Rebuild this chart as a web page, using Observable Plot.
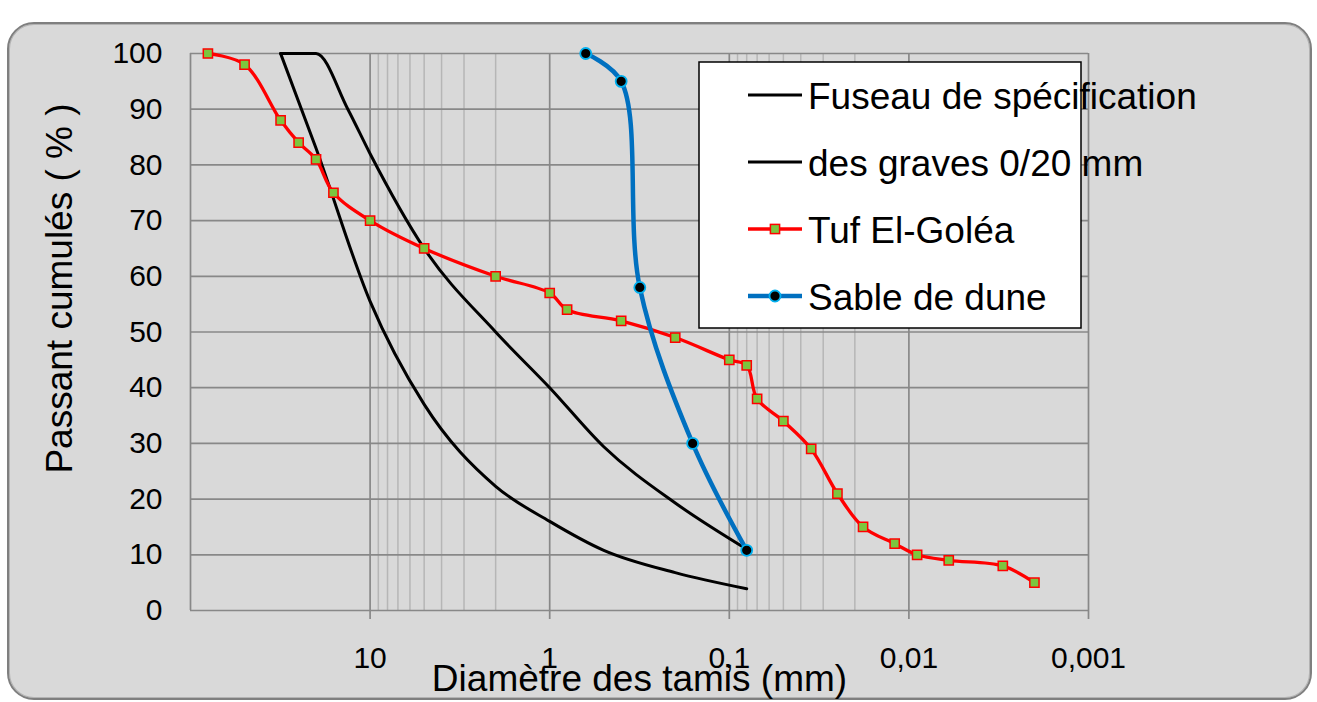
<!DOCTYPE html>
<html><head><meta charset="utf-8">
<script src="https://cdn.jsdelivr.net/npm/d3@7"></script>
<script src="https://cdn.jsdelivr.net/npm/@observablehq/plot@0.6"></script>
<style>
html,body{margin:0;padding:0;background:#fff;overflow:hidden;}
#wrap{position:relative;width:1317px;height:702px;font-family:"Liberation Sans",Arial,sans-serif;}
#bg{position:absolute;left:7px;top:22px;width:1301px;height:674px;background:#d9d9d9;border:2px solid #7f7f7f;border-radius:27px;box-shadow:inset 0 0 0 1px #b3b3b3;}
#chart svg{position:absolute;left:0;top:0;}
#legend{position:absolute;left:0;top:0;}
</style></head><body>
<div id="wrap"><div id="bg"></div><div id="chart"></div><svg id="legend" width="1317" height="702"></svg></div>
<script>
// ---- data ----
const xTickValues = [10, 1, 0.1, 0.01, 0.001];
const xTickLabels = ["10", "1", "0,1", "0,01", "0,001"];
const xMajorGrid = [100, 10, 1, 0.1, 0.01, 0.001];
const xMinorGrid = [9, 8, 7, 6, 5, 4, 3, 2, 0.09, 0.08, 0.07, 0.06, 0.05, 0.04, 0.03, 0.02];
const yTicks = [0, 10, 20, 30, 40, 50, 60, 70, 80, 90, 100];

const xTitle = "Diamètre des tamis (mm)";
const yTitle = "Passant cumulés ( % )";
const legendLabels = ["Fuseau de spécification", "des graves 0/20 mm", "Tuf El-Goléa", "Sable de dune"];

const fuseauLowerD = [31.5, 20, 10, 5, 2, 1, 0.5, 0.2, 0.08];
const fuseauLowerP = [100, 83, 55.5, 37, 22.3, 16, 10.8, 6.8, 3.9];
const fuseauUpperD = [31.5, 20, 13.3, 10, 5, 2, 1, 0.5, 0.2, 0.08];
const fuseauUpperP = [100, 100, 90, 82, 65, 50, 40, 29.4, 19.3, 11];
const tufD = [80, 50, 31.5, 25, 20, 16, 10, 5, 2, 1, 0.8, 0.4, 0.2, 0.1, 0.08, 0.07, 0.05, 0.035, 0.025, 0.018, 0.012, 0.009, 0.006, 0.003, 0.002];
const tufP = [100, 98, 88, 84, 81, 75, 70, 65, 60, 57, 54, 52, 49, 45, 44, 38, 34, 29, 21, 15, 12, 10, 9, 8, 5];
const sableD = [0.63, 0.4, 0.315, 0.16, 0.08];
const sableP = [100, 95, 58, 30, 10.8];

const table = (D, P) => D.map((d, i) => ({d, p: P[i]}));
const fLow = table(fuseauLowerD, fuseauLowerP);
const fUp = table(fuseauUpperD, fuseauUpperP);
const tuf = table(tufD, tufP);
const sable = table(sableD, sableP);

const fmt = d => { const i = xTickValues.indexOf(d); return i >= 0 ? xTickLabels[i] : ""; };
const GRID = "#888888", MINOR = "#b6b6b6";
const RED = "#ff0000", GREEN = "#7cc63e", BLUE = "#0070c0", CYAN = "#00b0f0";

const chart = Plot.plot({
  width: 1317, height: 702,
  marginLeft: 190, marginRight: 229, marginTop: 53, marginBottom: 92,
  style: {background: "transparent", fontFamily: "'Liberation Sans', Arial, sans-serif", color: "black", overflow: "visible"},
  x: {type: "log", domain: [100, 0.001], label: null},
  y: {domain: [0, 100], label: null},
  marks: [
    Plot.ruleX(xMinorGrid, {stroke: MINOR, strokeWidth: 1.5}),
    Plot.ruleX(xMajorGrid, {stroke: GRID, strokeWidth: 1.7}),
    Plot.ruleY(yTicks, {stroke: GRID, strokeWidth: 1.7}),
    Plot.axisX(xTickValues, {tickSize: 9, tickPadding: 27, stroke: GRID, strokeWidth: 1.7, fill: "black", fontSize: 30, tickFormat: fmt, label: null}),
    Plot.axisY(yTicks, {tickSize: 0, tickPadding: 28, fontSize: 30, fill: "black", label: null}),
    Plot.line(fLow, {x: "d", y: "p", stroke: "black", strokeWidth: 3, curve: "monotone-x"}),
    Plot.line(fUp, {x: "d", y: "p", stroke: "black", strokeWidth: 3, curve: "monotone-x"}),
    Plot.line(tuf, {x: "d", y: "p", stroke: RED, strokeWidth: 3.3, curve: "catmull-rom"}),
    Plot.dot(tuf, {x: "d", y: "p", symbol: "square", r: 5.2, fill: GREEN, stroke: RED, strokeWidth: 1.5}),
    Plot.line(sable, {x: "d", y: "p", stroke: BLUE, strokeWidth: 4.5, curve: "catmull-rom"}),
    Plot.dot(sable, {x: "d", y: "p", r: 5.5, fill: "black", stroke: CYAN, strokeWidth: 1.8}),
    Plot.text([yTitle], {text: d => d, frameAnchor: "left", textAnchor: "middle", lineAnchor: "middle", rotate: -90, dx: -130, dy: -43.5, fontSize: 37, fill: "black"}),
    Plot.text([xTitle], {text: d => d, frameAnchor: "bottom", textAnchor: "middle", lineAnchor: "bottom", dy: 80, fontSize: 37, fill: "black"})
  ]
});
document.getElementById("chart").appendChild(chart);

// ---- legend ----
const lg = d3.select("#legend");
lg.append("rect").attr("x", 699).attr("y", 62).attr("width", 382).attr("height", 266)
  .attr("fill", "white").attr("stroke", "black").attr("stroke-width", 1.5);
const rowsY = [95, 162, 229, 296];
const styles = [
  {stroke: "black", w: 3}, {stroke: "black", w: 3}, {stroke: RED, w: 3.3, marker: "square"}, {stroke: BLUE, w: 4.5, marker: "circle"}
];
legendLabels.forEach((t, i) => {
  const y = rowsY[i], s = styles[i];
  lg.append("line").attr("x1", 748).attr("x2", 802).attr("y1", y).attr("y2", y)
    .attr("stroke", s.stroke).attr("stroke-width", s.w);
  if (s.marker === "square") lg.append("rect").attr("x", 770.4).attr("y", y - 4.6).attr("width", 9.2).attr("height", 9.2)
    .attr("fill", GREEN).attr("stroke", RED).attr("stroke-width", 1.5);
  if (s.marker === "circle") lg.append("circle").attr("cx", 775).attr("cy", y).attr("r", 5.5)
    .attr("fill", "black").attr("stroke", CYAN).attr("stroke-width", 1.8);
  lg.append("text").attr("x", 808).attr("y", y + 14).attr("font-size", 37)
    .attr("font-family", "'Liberation Sans', Arial, sans-serif").attr("fill", "black").text(t);
});
</script>
</body></html>
